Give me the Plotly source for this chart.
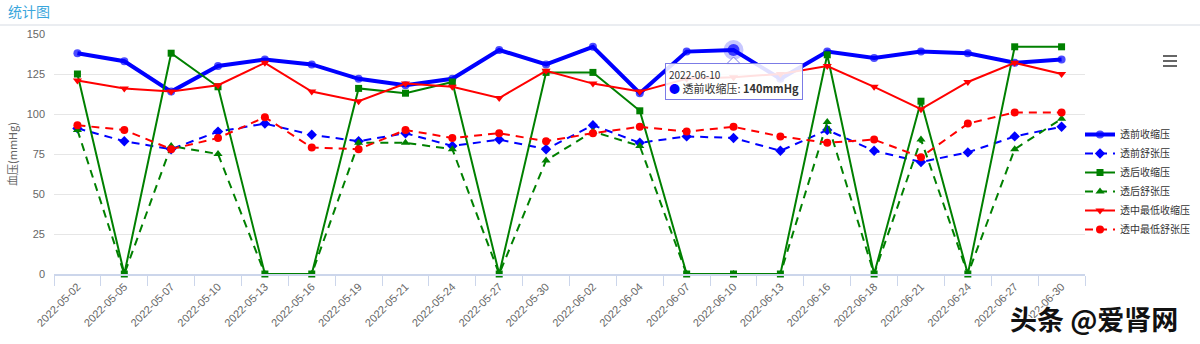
import plotly.graph_objects as go

dates = ["2022-05-02", "2022-05-05", "2022-05-07", "2022-05-10", "2022-05-13", "2022-05-16",
         "2022-05-19", "2022-05-21", "2022-05-24", "2022-05-27", "2022-05-30", "2022-06-02",
         "2022-06-04", "2022-06-07", "2022-06-10", "2022-06-13", "2022-06-16", "2022-06-18",
         "2022-06-21", "2022-06-24", "2022-06-27", "2022-06-30"]

pre_sys = [138, 133, 114, 130, 134, 131, 122, 118, 122, 140, 131, 142,
           113, 139, 140, 122, 139, 135, 139, 138, 132, 134]
pre_dia = [91, 83, 78, 89, 94, 87, 83, 88, 80, 84, 78, 93,
           82, 86, 85, 77, 90, 77, 70, 76, 86, 92]
post_sys = [125, 0, 138, 117, 0, 0, 116, 113, 120, 0, 126, 126,
            102, 0, 0, 0, 137, 0, 108, 0, 142, 142]
post_dia = [90, 0, 80, 75, 0, 0, 82, 82, 78, 0, 71, 89,
            80, 0, 0, 0, 95, 0, 84, 0, 78, 97]
mid_sys = [121, 116, 114, 118, 132, 114, 108, 119, 117, 110, 127, 119,
           114, 122, 123, 125, 130, 117, 103, 120, 132, 125]
mid_dia = [93, 90, 78, 85, 98, 79, 78, 90, 85, 88, 83, 88,
           92, 89, 92, 86, 82, 84, 73, 94, 101, 101]

series_names = ["透前收缩压", "透前舒张压", "透后收缩压", "透后舒张压", "透中最低收缩压", "透中最低舒张压"]
y_ticks = [0, 25, 50, 75, 100, 125, 150]
hover_idx = 14

FONT = "Liberation Sans, Noto Sans CJK SC, sans-serif"
CJK = "Noto Sans CJK SC, Liberation Sans, sans-serif"
BLUE = "#0000ff"
GREEN = "#008000"
RED = "#ff0000"

# plot area pixel geometry
L, R, T, B = 54, 115, 34, 70
PW, PH = 1200 - L - R, 344 - T - B


def px(x):
    return (x - L) / PW


def py(y):
    return (344 - B - y) / PH


fig = go.Figure()

# hover halo on hovered point
fig.add_trace(go.Scatter(x=[dates[hover_idx]], y=[pre_sys[hover_idx]], mode="markers",
                         marker=dict(size=20, color="rgba(0,0,255,0.22)"),
                         showlegend=False, hoverinfo="skip", cliponaxis=False))

sizes = [8] * len(dates)
sizes[hover_idx] = 12

specs = [
    (pre_sys, BLUE, "solid", 4, "circle", sizes),
    (pre_dia, BLUE, "8px,6px", 2, "diamond", 8),
    (post_sys, GREEN, "solid", 2, "square", 7),
    (post_dia, GREEN, "8px,6px", 2, "triangle-up", 8),
    (mid_sys, RED, "solid", 2, "triangle-down", 8),
    (mid_dia, RED, "8px,6px", 2, "circle", 8),
]
for name, (vals, col, dash, lw, sym, sz) in zip(series_names, specs):
    fig.add_trace(go.Scatter(x=dates, y=vals, name=name, mode="lines+markers",
                             line=dict(color=col, width=lw, dash=dash),
                             marker=dict(symbol=sym, size=sz, color=col, line=dict(width=0)),
                             cliponaxis=False))

shapes = []
# title underline
shapes.append(dict(type="line", xref="paper", yref="paper", x0=px(0), x1=px(1200),
                   y0=py(25), y1=py(25), line=dict(color="#d6dbe3", width=1)))
# menu icon
for yy in (56, 61, 66):
    shapes.append(dict(type="line", xref="paper", yref="paper", x0=px(1163), x1=px(1177),
                       y0=py(yy), y1=py(yy), line=dict(color="#666666", width=2)))
# tooltip pointer (apex near the hovered point, base on the tooltip box)
shapes.append(dict(type="path", xref="x", yref="y", xsizemode="pixel", ysizemode="pixel",
                   xanchor=hover_idx, yanchor=pre_sys[hover_idx],
                   path="M0,-7 L-7,-14 L7,-14 Z",
                   fillcolor="rgba(255,255,255,0.95)", line=dict(color="#7b7be6", width=1)))

annotations = [
    dict(xref="x", yref="y", x=dates[hover_idx], y=pre_sys[hover_idx], xanchor="center",
         yanchor="top", yshift=-13, showarrow=False, align="left",
         text=(f"<span style='font-size:10px;color:#333333'>{dates[hover_idx]}</span><br>"
               f"<span style='color:{BLUE}'>●</span> {series_names[0]}: <b>{pre_sys[hover_idx]}mmHg</b>"),
         font=dict(family=CJK, size=11, color="#333333"),
         bgcolor="rgba(255,255,255,0.88)", bordercolor="#7b7be6", borderwidth=1, borderpad=3),
    dict(xref="paper", yref="paper", x=px(1094), y=py(318), xanchor="center", yanchor="middle",
         showarrow=False, text="<b>头条 @爱肾网</b>",
         font=dict(family=CJK, size=27, color="#111111",
                   shadow="1px 1px 0px #ffffff, -1px -1px 0px #ffffff, 1px -1px 0px #ffffff, -1px 1px 0px #ffffff")),
]

fig.update_layout(
    width=1200, height=344,
    margin=dict(l=L, r=R, t=T, b=B, autoexpand=False),
    paper_bgcolor="white", plot_bgcolor="white",
    font=dict(family=FONT, size=11, color="#666666"),
    title=dict(text="统计图", x=8 / 1200, xanchor="left", xref="container",
               y=1 - 12 / 344, yanchor="middle", yref="container",
               font=dict(family=CJK, size=14, color="#3aa6dc")),
    showlegend=True,
    legend=dict(x=px(1080), xanchor="left", y=py(182), yanchor="middle",
                font=dict(family=CJK, size=10, color="#333333"),
                itemwidth=30, bgcolor="rgba(0,0,0,0)"),
    hovermode=False,
    shapes=shapes,
    annotations=annotations,
)
fig.update_xaxes(type="category", categoryorder="array", categoryarray=dates,
                 range=[-0.5, len(dates) - 0.5], autorange=False,
                 tickangle=-45, tickson="boundaries", ticks="outside", ticklen=10,
                 tickcolor="#ccd6eb", showline=True, linecolor="#ccd6eb", linewidth=2,
                 showgrid=False, automargin=False, tickfont=dict(size=11, color="#666666"))
fig.update_yaxes(range=[0, 150], tickvals=y_ticks, showgrid=True, gridcolor="#e6e6e6",
                 zeroline=False, ticks="", ticklabelstandoff=8, automargin=False,
                 tickfont=dict(size=11, color="#666666"),
                 title=dict(text="血压(mmHg)", font=dict(family=CJK, size=11, color="#666666"), standoff=6))

fig.write_html("out.html")
